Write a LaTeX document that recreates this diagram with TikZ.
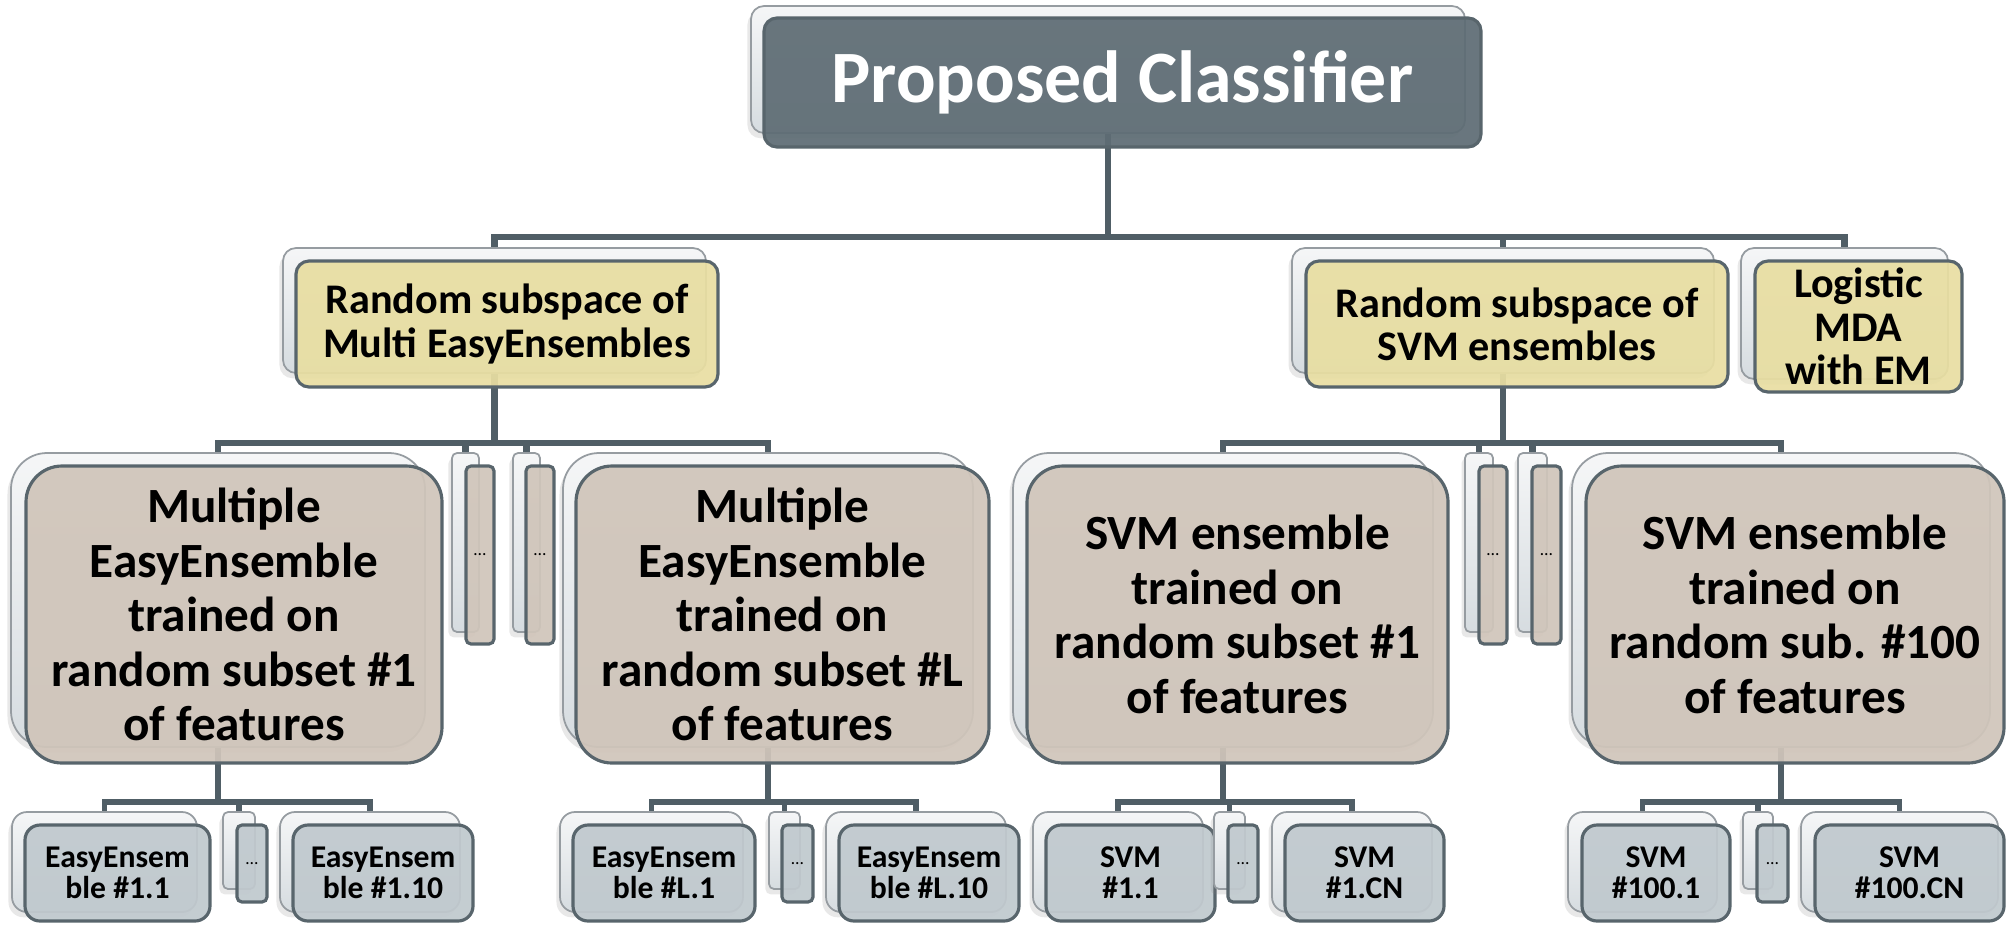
\documentclass[tikz,border=0pt]{standalone}
\usepackage{fontspec}
\setmainfont{Carlito}
\usetikzlibrary{shadows,backgrounds}
\definecolor{conncol}{RGB}{80,94,102}
\definecolor{backtop}{RGB}{245,246,247}
\definecolor{backbot}{RGB}{214,220,224}
\definecolor{backdraw}{RGB}{150,156,161}
\definecolor{frontdraw}{RGB}{88,101,108}
\definecolor{lonefill}{RGB}{94,108,116}
\definecolor{ltwofill}{RGB}{232,222,162}
\definecolor{lthreefill}{RGB}{208,197,186}
\definecolor{lfourfill}{RGB}{192,201,206}
\tikzset{
  conn/.style={draw=conncol, line width=1.9pt},
  connsmall/.style={draw=conncol, line width=1.6pt},
  backbox/.style={rectangle, draw=backdraw, line width=0.5pt, top color=backtop, bottom color=backbot,
    inner sep=0pt, drop shadow={shadow xshift=-1pt, shadow yshift=-1.5pt, opacity=0.18}},
  frontbox/.style={rectangle, draw=frontdraw, line width=0.9pt, fill opacity=0.93, text opacity=1,
    inner sep=0pt, align=center},
  lone/.style={frontbox, fill=lonefill, text=white, rounded corners=0.13cm, font=\fontsize{21}{24}\selectfont\bfseries},
  ltwo/.style={frontbox, fill=ltwofill, rounded corners=0.13cm, font=\fontsize{12}{12.3}\selectfont\bfseries},
  lthree/.style={frontbox, fill=lthreefill, rounded corners=0.36cm, font=\fontsize{14}{15.5}\selectfont\bfseries},
  lfour/.style={frontbox, fill=lfourfill, rounded corners=0.15cm, font=\fontsize{9}{8.7}\selectfont\bfseries},
  dotsthree/.style={frontbox, fill=lthreefill, rounded corners=0.05cm, font=\fontsize{5}{6}\selectfont},
  dotsfour/.style={frontbox, fill=lfourfill, rounded corners=0.05cm, font=\fontsize{5}{6}\selectfont},
  bone/.style={backbox, rounded corners=0.13cm},
  bthree/.style={backbox, rounded corners=0.36cm},
  bfour/.style={backbox, rounded corners=0.15cm},
  bdots/.style={backbox, rounded corners=0.05cm},
}
\newcommand\mkbox[7]{\node[#1, minimum width={(#5-#3)*0.01cm}, minimum height={(#6-#4)*0.01cm}] (#2) at ({(#3+#5)/2},{(#4+#6)/2}) {#7};}
\begin{document}
\begin{tikzpicture}[x=0.01cm, y=-0.01cm]
\useasboundingbox (0,0) rectangle (2007,924);
\coordinate (busA) at (0,237);
\coordinate (busB) at (0,443);
\coordinate (busC) at (0,802);
% level 1
\mkbox{bone}{pcB}{751}{6}{1465}{133}{}
\mkbox{lone}{pc}{764}{18}{1481}{147}{Proposed Classifier}
% level 2
\mkbox{bone}{rsmB}{283}{248}{706}{373}{}
\mkbox{ltwo}{rsm}{296}{261}{718}{387}{Random subspace of\\Multi EasyEnsembles}
\mkbox{bone}{rssB}{1292}{248}{1714}{373}{}
\mkbox{ltwo}{rss}{1306}{261}{1728}{387}{Random subspace of\\SVM ensembles}
\mkbox{bone}{logB}{1741}{248}{1948}{379}{}
\mkbox{ltwo}{log}{1755}{261}{1962}{392}{Logistic\\MDA\\with EM}
% level 3
\mkbox{bthree}{mAB}{11}{453}{425}{747}{}
\mkbox{lthree}{mA}{26}{466}{442}{763}{Multiple\\EasyEnsemble\\trained on\\random subset \#1\\of features}
\mkbox{bdots}{dAB}{452}{453}{479}{632}{}
\mkbox{dotsthree}{dA}{466}{466}{494}{644}{…}
\mkbox{bdots}{dBB}{513}{453}{540}{632}{}
\mkbox{dotsthree}{dB}{526}{466}{554}{644}{…}
\mkbox{bthree}{mLB}{563}{453}{973}{747}{}
\mkbox{lthree}{mL}{576}{466}{989}{763}{Multiple\\EasyEnsemble\\trained on\\random subset \#L\\of features}
\mkbox{bthree}{sAB}{1013}{453}{1433}{747}{}
\mkbox{lthree}{sA}{1027}{466}{1448}{763}{SVM ensemble\\trained on\\random subset \#1\\of features}
\mkbox{bdots}{dCB}{1465}{453}{1493}{632}{}
\mkbox{dotsthree}{dC}{1479}{466}{1507}{644}{…}
\mkbox{bdots}{dDB}{1518}{453}{1547}{632}{}
\mkbox{dotsthree}{dD}{1532}{466}{1561}{644}{…}
\mkbox{bthree}{sZB}{1572}{453}{1990}{747}{}
\mkbox{lthree}{sZ}{1586}{466}{2004}{763}{SVM ensemble\\trained on\\random sub. \#100\\of features}
% level 4
\mkbox{bfour}{eAAB}{12}{812}{197}{912}{}
\mkbox{lfour}{eAA}{25}{825}{210}{921}{EasyEnsem\\ble \#1.1}
\mkbox{bdots}{dEB}{223}{812}{255}{889}{}
\mkbox{dotsfour}{dE}{237}{825}{267}{902}{…}
\mkbox{bfour}{eAZB}{280}{812}{460}{912}{}
\mkbox{lfour}{eAZ}{293}{825}{473}{921}{EasyEnsem\\ble \#1.10}
\mkbox{bfour}{eLAB}{560}{812}{743}{912}{}
\mkbox{lfour}{eLA}{573}{825}{755}{921}{EasyEnsem\\ble \#L.1}
\mkbox{bdots}{dFB}{769}{812}{800}{889}{}
\mkbox{dotsfour}{dF}{782}{825}{813}{902}{…}
\mkbox{bfour}{eLZB}{826}{812}{1006}{912}{}
\mkbox{lfour}{eLZ}{839}{825}{1019}{921}{EasyEnsem\\ble \#L.10}
\mkbox{bfour}{vAAB}{1033}{812}{1203}{912}{}
\mkbox{lfour}{vAA}{1046}{825}{1215}{921}{SVM\\\#1.1}
\mkbox{bdots}{dGB}{1214}{812}{1245}{889}{}
\mkbox{dotsfour}{dG}{1228}{825}{1258}{902}{…}
\mkbox{bfour}{vAZB}{1272}{812}{1432}{912}{}
\mkbox{lfour}{vAZ}{1285}{825}{1444}{921}{SVM\\\#1.CN}
\mkbox{bfour}{vZAB}{1568}{812}{1717}{912}{}
\mkbox{lfour}{vZA}{1582}{825}{1730}{921}{SVM\\\#100.1}
\mkbox{bdots}{dHB}{1743}{812}{1773}{889}{}
\mkbox{dotsfour}{dH}{1757}{825}{1788}{902}{…}
\mkbox{bfour}{vZZB}{1801}{812}{1998}{912}{}
\mkbox{lfour}{vZZ}{1815}{825}{2004}{921}{SVM\\\#100.CN}
% connectors
\begin{scope}[on background layer]
  \foreach \c in {rsmB,rssB,logB}
    \draw[conn] (pcB.south) -- (pcB.south |- busA) -| (\c.north);
  \foreach \c in {mAB,dAB,dBB,mLB}
    \draw[conn] (rsmB.south) -- (rsmB.south |- busB) -| (\c.north);
  \foreach \c in {sAB,dCB,dDB,sZB}
    \draw[conn] (rssB.south) -- (rssB.south |- busB) -| (\c.north);
  \foreach \c in {eAAB,dEB,eAZB}
    \draw[connsmall] (mAB.south) -- (mAB.south |- busC) -| (\c.north);
  \foreach \c in {eLAB,dFB,eLZB}
    \draw[connsmall] (mLB.south) -- (mLB.south |- busC) -| (\c.north);
  \foreach \c in {vAAB,dGB,vAZB}
    \draw[connsmall] (sAB.south) -- (sAB.south |- busC) -| (\c.north);
  \foreach \c in {vZAB,dHB,vZZB}
    \draw[connsmall] (sZB.south) -- (sZB.south |- busC) -| (\c.north);
\end{scope}
\end{tikzpicture}
\end{document}
